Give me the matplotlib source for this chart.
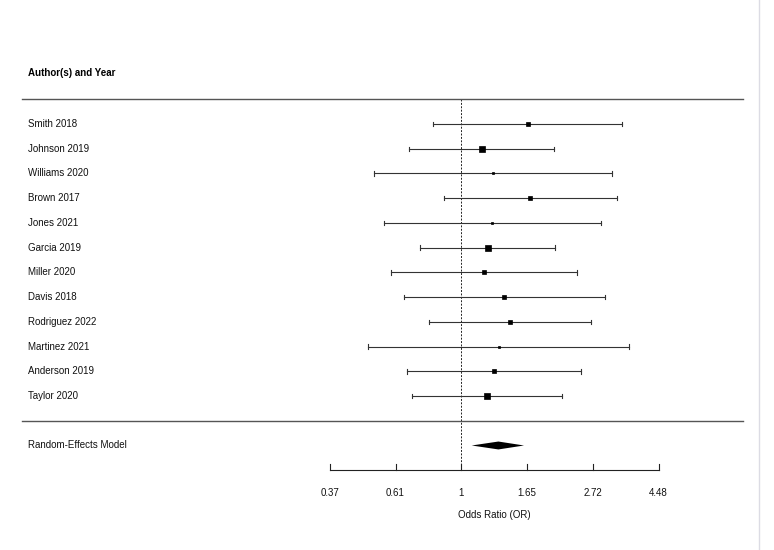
"""Forest plot: odds ratios per study with random-effects summary (metafor style)."""
import matplotlib
matplotlib.use("Agg")
import matplotlib.pyplot as plt
import numpy as np

plt.rcParams["font.family"] = ["Liberation Sans", "DejaVu Sans"]

studies = ["Smith 2018", "Johnson 2019", "Williams 2020", "Brown 2017",
           "Jones 2021", "Garcia 2019", "Miller 2020", "Davis 2018",
           "Rodriguez 2022", "Martinez 2021", "Anderson 2019", "Taylor 2020"]
# log odds ratios and 95% CI bounds (log scale)
log_or = [0.505, 0.155, 0.239, 0.525, 0.236, 0.201, 0.175, 0.327,
          0.368, 0.284, 0.249, 0.193]
ci_lo = [-0.218, -0.395, -0.662, -0.129, -0.586, -0.316, -0.537, -0.436,
         -0.246, -0.707, -0.415, -0.377]
ci_hi = [1.224, 0.707, 1.144, 1.182, 1.062, 0.715, 0.882, 1.093,
         0.984, 1.275, 0.913, 0.763]
weights = [6.7, 15.2, 3.1, 9.3, 3.8, 16.8, 6.7, 5.8, 10.5, 1.7, 7.8, 12.6]

re_label = "Random-Effects Model"
re_est, re_lo, re_hi = 0.282, 0.079, 0.477

tick_log = [-1.0, -0.5, 0.0, 0.5, 1.0, 1.5]
tick_labels = ["0.37", "0.61", "1", "1.65", "2.72", "4.48"]
header = "Author(s) and Year"
xlabel = "Odds Ratio (OR)"

W, H = 774, 550
FS = 7
fig = plt.figure(figsize=(W / 100, H / 100), dpi=100)
ax = fig.add_axes([0, 0, 1, 1])
ax.set_axis_off()
# map log-OR to pixels: 1 -> 461.3 px, 131.5 px per log unit
x0, sx = 461.3, 131.5
ax.set_xlim(-x0 / sx, (W - x0) / sx)
# rows: study k at top, 24.73 px per row, top study centred at y=124 px
k = len(studies)
rh = 24.73
ax.set_ylim(k - (H - 124) / rh, k + 124 / rh)

ink = "#222222"
rows = np.arange(k, 0, -1)
xl = 28 / W

# header and separators
ax.text(xl, k + 2.05, header, transform=ax.get_yaxis_transform(),
        fontsize=FS, fontweight="bold", va="center", ha="left", color="black")
for yy in (k + 1, 0):
    ax.axhline(yy, xmin=22 / W, xmax=743 / W, color="#555555", lw=1.0)

# reference line at OR = 1
ax.plot([0, 0], [k + 1, -2], color=ink, lw=0.7, ls=(0, (2, 1.5)), zorder=1)

# studies
wmax = max(weights)
for r, name, est, lo, hi, w in zip(rows, studies, log_or, ci_lo, ci_hi, weights):
    ax.text(xl, r, name, transform=ax.get_yaxis_transform(), fontsize=FS,
            va="center", ha="left", color="#111111")
    ax.plot([lo, hi], [r, r], color="#333333", lw=0.8, zorder=2)
    for e in (lo, hi):
        ax.plot([e, e], [r - 0.09, r + 0.09], color="#333333", lw=0.8, zorder=2)
    ms = np.sqrt(w / wmax) * 6.3 * 0.72
    ax.plot(est, r, marker="s", ms=ms, color="black", mec="black", mew=0.5,
            zorder=3)

# random-effects diamond
ax.text(xl, -1, re_label, transform=ax.get_yaxis_transform(), fontsize=FS,
        va="center", ha="left", color="#111111")
dh = 0.16
ax.fill([re_lo, re_est, re_hi, re_est], [-1, -1 + dh, -1, -1 - dh],
        color="black", lw=0, zorder=3)

# x axis drawn by hand
ya = -2
ax.plot([tick_log[0], tick_log[-1]], [ya, ya], color=ink, lw=0.8)
for t, lab in zip(tick_log, tick_labels):
    ax.plot([t, t], [ya, ya + 0.26], color=ink, lw=0.8)
    ax.text(t, ya - 0.93, lab, fontsize=FS, ha="center", va="center",
            color="#111111")
ax.text(np.mean([tick_log[0], tick_log[-1]]), ya - 1.82, xlabel, fontsize=FS,
        ha="center", va="center", color="#111111")

# faint frame edge on the right
ax.axvline((758.5 - x0) / sx, color="#dcdce4", lw=1.0)

fig.savefig("out.png", dpi=100)
plt.close(fig)
